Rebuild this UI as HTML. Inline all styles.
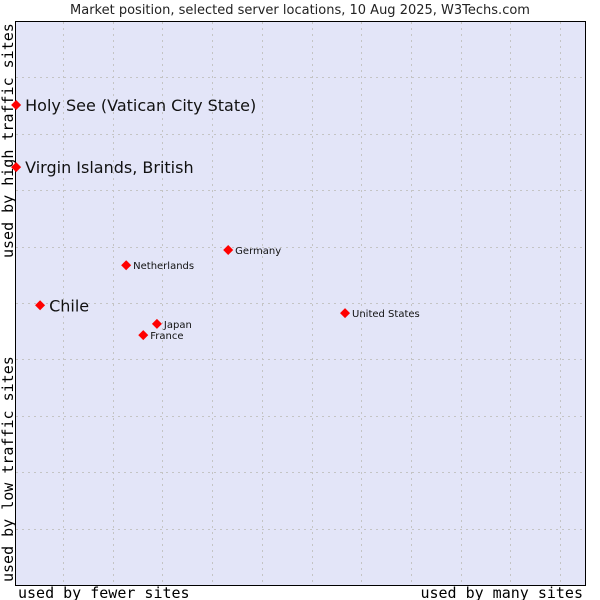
<!DOCTYPE html>
<html><head><meta charset="utf-8"><style>
body{margin:0;background:#fff;width:600px;height:600px;overflow:hidden}
svg{display:block}
</style></head><body>
<svg id="chart" width="600" height="600" xmlns="http://www.w3.org/2000/svg">
<text x="300" y="14" text-anchor="middle" font-family="DejaVu Sans, sans-serif" font-size="13" fill="#222">Market position, selected server locations, 10 Aug 2025, W3Techs.com</text>
<rect x="15.5" y="21.5" width="570" height="564" fill="#e3e5f8" stroke="#000" stroke-width="1"/>
<g id="grid"></g>
<text transform="translate(13,258) rotate(-90)" font-family="DejaVu Sans Mono, monospace" font-size="15" fill="#000">used by high traffic sites</text>
<text transform="translate(13,582) rotate(-90)" font-family="DejaVu Sans Mono, monospace" font-size="15" fill="#000">used by low traffic sites</text>
<text x="18" y="598" font-family="DejaVu Sans Mono, monospace" font-size="15" fill="#000">used by fewer sites</text>
<text x="583" y="598" text-anchor="end" font-family="DejaVu Sans Mono, monospace" font-size="15" fill="#000">used by many sites</text>
<g id="points"></g>
</svg>
<script>
const names = ["Holy See (Vatican City State)","Virgin Islands, British","Chile","Netherlands","Germany","Japan","France","United States"];
const xValues = [0.2,0.2,4.4,19.5,37.4,24.9,22.5,57.9];
const yValues = [85.1,74.1,49.6,56.7,59.4,46.3,44.3,48.2];
const bigLabel = [true,true,true,false,false,false,false,false];
const NS="http://www.w3.org/2000/svg";
const L=15,R=585,T=21,B=585;
function xs(v){return L+(R-L)*v/100;}
function ys(v){return B-(B-T)*v/100;}
const grid=document.getElementById('grid');
for(let k=0;k<11;k++){
  const x=Math.round(63+49.7*k)+0.5; if(x>=R)break;
  const l=document.createElementNS(NS,'line');
  
  
  l.setAttribute('x1',x);l.setAttribute('x2',x);l.setAttribute('y1',T+1);l.setAttribute('y2',B);
  l.setAttribute('stroke','#c4c4c4');l.setAttribute('stroke-dasharray','2,4');
  grid.appendChild(l);
}
for(let k=1;k<10;k++){
  const y=Math.round(T+56.4*k)+0.5;
  const l=document.createElementNS(NS,'line');
  
  
  l.setAttribute('x1',L+1);l.setAttribute('x2',R);l.setAttribute('y1',y);l.setAttribute('y2',y);
  l.setAttribute('stroke','#c4c4c4');l.setAttribute('stroke-dasharray','2,4');
  grid.appendChild(l);
}
const pts=document.getElementById('points');
names.forEach((n,i)=>{
  const x=xs(xValues[i]),y=ys(yValues[i]);
  const p=document.createElementNS(NS,'polygon');
  
  
  p.setAttribute('points',`${x},${y-5} ${x+5},${y} ${x},${y+5} ${x-5},${y}`);
  p.setAttribute('fill','#ff0000');
  pts.appendChild(p);
  const t=document.createElementNS(NS,'text');
  
  
  t.setAttribute('x',x+(bigLabel[i]?9:7));
  t.setAttribute('y',y+(bigLabel[i]?6:4));
  t.setAttribute('font-family','DejaVu Sans, sans-serif');
  t.setAttribute('font-size',bigLabel[i]?'16':'10');
  t.setAttribute('fill','#111');
  t.textContent=n;
  pts.appendChild(t);
});
</script>
</body></html>
